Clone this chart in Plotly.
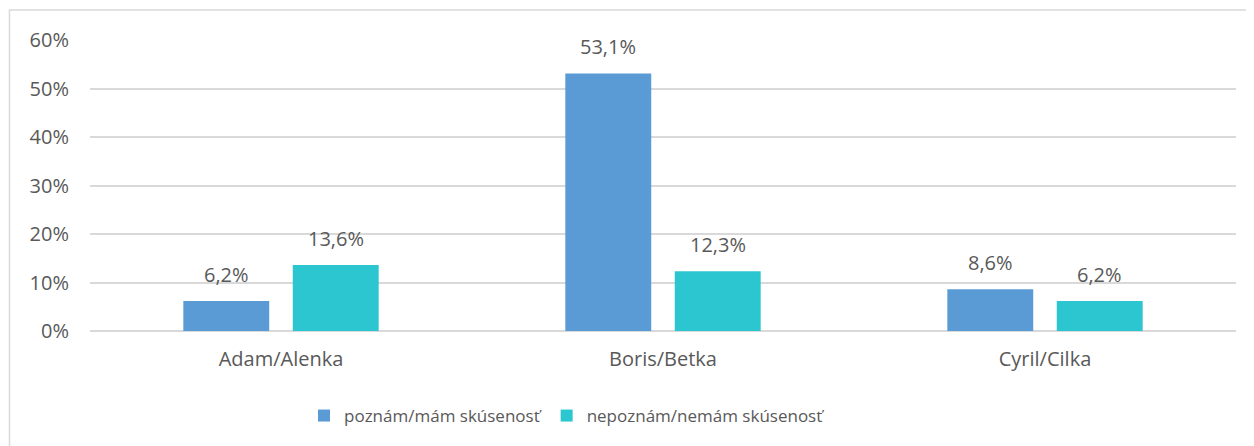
import plotly.graph_objects as go

categories = ["Adam/Alenka", "Boris/Betka", "Cyril/Cilka"]
series_names = ["poznám/mám skúsenosť", "nepoznám/nemám skúsenosť"]
known = [0.062, 0.531, 0.086]
unknown = [0.136, 0.123, 0.062]
colors = ["#5B9BD5", "#2CC6D0"]

# page has an 8px body margin; figure coordinates are offset accordingly
OFF = 8
W, H = 1254 - OFF, 446 - OFF
L, T = 90 - OFF, 40 - OFF
pw = 1236 - 90
ph = 331 - 40
R = W - L - pw
B = H - T - ph

BARGAP, GROUPGAP = 0.427, 0.215
font = dict(family="Open Sans, Noto Sans, sans-serif", size=20, color="#595959")
legend_font = dict(family="Open Sans, Noto Sans, sans-serif", size=17, color="#595959")

fig = go.Figure()
slot = pw / len(categories) * (1 - BARGAP) / 2
annotations = []
for i, (name, vals, col) in enumerate(zip(series_names, [known, unknown], colors)):
    fig.add_trace(go.Bar(
        x=categories, y=vals, name=name, marker=dict(color=col, line=dict(width=0)),
    ))
    for c, v in zip(categories, vals):
        annotations.append(dict(
            x=c, y=v, xref="x", yref="y", text=f"{v*100:.1f}%".replace(".", ","),
            showarrow=False, xanchor="center", yanchor="bottom",
            xshift=(i - 0.5) * slot, yshift=11, font=font,
        ))

def px_x(p):
    return (p - OFF - L) / pw

def px_y(p):
    return (T + ph - (p - OFF)) / ph

fig.update_layout(
    width=W, height=H, margin=dict(l=L, r=R, t=T, b=B),
    paper_bgcolor="white", plot_bgcolor="white",
    separators=",.", font=font,
    barmode="group", bargap=BARGAP, bargroupgap=GROUPGAP,
    showlegend=True,
    legend=dict(orientation="h", x=px_x(304), xanchor="left", y=px_y(416), yanchor="middle",
                font=legend_font, itemwidth=30, tracegroupgap=0, itemclick=False),
    xaxis=dict(showgrid=False, showline=False, ticks="", ticklabelstandoff=14, tickfont=font),
    yaxis=dict(range=[0, 0.6], dtick=0.1, tickformat=".0%", showgrid=True, gridcolor="#D9D9D9",
               gridwidth=1.5, zeroline=True, zerolinecolor="#D9D9D9", zerolinewidth=1.5,
               showline=False, ticks="", ticklabelstandoff=20, tickfont=font),
    annotations=annotations,
    shapes=[dict(type="rect", xref="paper", yref="paper",
                 x0=px_x(9.5), x1=px_x(1270), y0=px_y(470), y1=px_y(10),
                 line=dict(color="#D9D9D9", width=1.5), fillcolor="rgba(0,0,0,0)", layer="below")],
)
fig.write_html("out.html")
